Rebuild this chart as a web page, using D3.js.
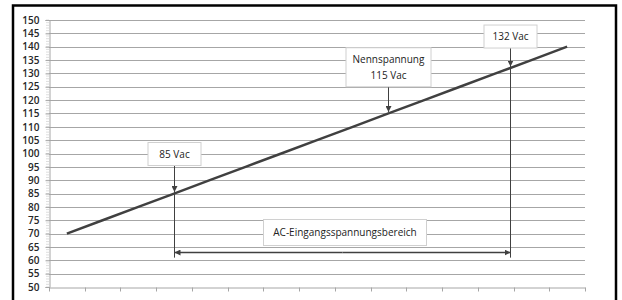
<!DOCTYPE html>
<html>
<head>
<meta charset="utf-8">
<script src="https://cdn.jsdelivr.net/npm/d3@7"></script>
<style>
  body { margin: 0; background: #fff; }
  text { font-family: "Open Sans", sans-serif; }
</style>
</head>
<body>
<svg></svg>
<script>
// data
var categories = [1, 2, 3, 4, 5, 6, 7, 8, 9, 10, 11, 12, 13, 14, 15];
var voltages = [70, 75, 80, 85, 90, 95, 100, 105, 110, 115, 120, 125, 130, 135, 140];
var yTicks = [50, 55, 60, 65, 70, 75, 80, 85, 90, 95, 100, 105, 110, 115, 120, 125, 130, 135, 140, 145, 150];
var markLabels = [["85 Vac"], ["Nennspannung", "115 Vac"], ["132 Vac"]];
var markValues = [85, 115, 132];
var rangeLabel = "AC-Eingangsspannungsbereich";

var svgWidth = 622;
var svgHeight = 300;
var svg = d3.select("svg").attr("width", svgWidth).attr("height", svgHeight);

// outer frame
svg.append("rect")
  .attr("x", 13).attr("y", 5.5)
  .attr("width", 603).attr("height", 310)
  .attr("fill", "#fff").attr("stroke", "#000").attr("stroke-width", 2.5);

var plotLeft = 49, plotRight = 585, plotTop = 20, plotBottom = 287;

var x = d3.scaleBand().domain(categories).range([plotLeft, plotRight]);
var y = d3.scaleLinear().domain([50, 150]).range([plotBottom, plotTop]);
// value -> x along the line (for 132 Vac etc.)
var xv = d3.scaleLinear()
  .domain([voltages[0], voltages[voltages.length - 1]])
  .range([x(categories[0]) + x.bandwidth() / 2, x(categories[categories.length - 1]) + x.bandwidth() / 2]);

var grid = "#a6a6a6";

// gridlines
svg.append("g").selectAll("line")
  .data(yTicks.slice(1))
  .enter().append("line")
  .attr("x1", plotLeft).attr("x2", plotRight)
  .attr("y1", function(d) { return Math.round(y(d)) + 0.5; })
  .attr("y2", function(d) { return Math.round(y(d)) + 0.5; })
  .attr("stroke", grid).attr("stroke-width", 1);

// minor ticks on y axis
var minor = d3.range(50, 151, 1);
svg.append("g").selectAll("line")
  .data(minor)
  .enter().append("line")
  .attr("x1", plotLeft - 3).attr("x2", plotLeft)
  .attr("y1", function(d) { return y(d); })
  .attr("y2", function(d) { return y(d); })
  .attr("stroke", "#c8c8c8").attr("stroke-width", 0.6);

// y axis
var yAxis = d3.axisLeft(y).tickValues(yTicks).tickSize(4).tickPadding(6);
var gy = svg.append("g").attr("transform", "translate(" + (plotLeft + 0.5) + ",0)").call(yAxis);
gy.select(".domain").attr("stroke", grid);
gy.selectAll(".tick line").attr("stroke", grid);
gy.selectAll(".tick text")
  .attr("font-size", "10px")
  .attr("font-weight", "600")
  .attr("fill", "#262626")
  .attr("font-family", "Open Sans");

// x axis (ticks between categories)
var xAxis = d3.axisBottom(x).tickSize(0).tickFormat("");
var gx = svg.append("g").attr("transform", "translate(0," + (Math.round(y(50)) + 0.5) + ")").call(xAxis);
gx.select(".domain").attr("stroke", grid);
gx.selectAll(".tick").remove();
gx.selectAll(".cat")
  .data(categories.concat(["end"]))
  .enter().append("line")
  .attr("x1", function(d, i) { return Math.round(plotLeft + x.step() * i) + 0.5; })
  .attr("x2", function(d, i) { return Math.round(plotLeft + x.step() * i) + 0.5; })
  .attr("y1", 0).attr("y2", 4)
  .attr("stroke", grid);

// the line
var line = d3.line()
  .x(function(d, i) { return x(categories[i]) + x.bandwidth() / 2; })
  .y(function(d) { return y(d); });
svg.append("path")
  .datum(voltages)
  .attr("d", line)
  .attr("fill", "none")
  .attr("stroke", "#404040")
  .attr("stroke-width", 2.5);

// arrow markers
var defs = svg.append("defs");
defs.append("marker")
  .attr("id", "head")
  .attr("viewBox", "0 0 10 10")
  .attr("refX", 10).attr("refY", 5)
  .attr("markerWidth", 6).attr("markerHeight", 6)
  .attr("markerUnits", "userSpaceOnUse")
  .attr("orient", "auto")
  .append("path").attr("d", "M0,0 L10,5 L0,10 z").attr("fill", "#404040");

var ink = "#404040";

// annotation layout (box bottom in y-values, box width, line extends down?)
var boxBottom = [95.5, 125, 139.5];
var boxWidth = [53, 85, 53];
var extendDown = [true, false, true];
var lineBottom = 61;

markValues.forEach(function(v, i) {
  var ax = Math.round(xv(v)) + 0.5;
  var ay = y(v) - 1.5;
  var bb = y(boxBottom[i]);
  var bh = markLabels[i].length * 16 + 7;
  if (extendDown[i]) {
    svg.append("line")
      .attr("x1", ax).attr("x2", ax)
      .attr("y1", bb).attr("y2", y(lineBottom))
      .attr("stroke", ink).attr("stroke-width", 1);
  }
  svg.append("line")
    .attr("x1", ax).attr("x2", ax)
    .attr("y1", bb).attr("y2", ay)
    .attr("stroke", ink).attr("stroke-width", 1)
    .attr("marker-end", "url(#head)");
  svg.append("rect")
    .attr("x", ax - boxWidth[i] / 2).attr("y", bb - bh)
    .attr("width", boxWidth[i]).attr("height", bh)
    .attr("fill", "#fff").attr("stroke", "#d0d0d0");
  markLabels[i].forEach(function(t, j) {
    svg.append("text")
      .attr("x", ax).attr("y", bb - bh + 15 + j * 16)
      .attr("text-anchor", "middle")
      .attr("font-size", "10px")
      .attr("fill", "#222")
      .text(t);
  });
});

// range arrow
var rx1 = Math.round(xv(markValues[0])) + 0.5;
var rx2 = Math.round(xv(markValues[2])) + 0.5;
var ry = Math.round(y(63.2)) + 0.5;
svg.append("line")
  .attr("x1", (rx1 + rx2) / 2).attr("x2", rx1)
  .attr("y1", ry).attr("y2", ry)
  .attr("stroke", ink).attr("stroke-width", 1.5)
  .attr("marker-end", "url(#head)");
svg.append("line")
  .attr("x1", (rx1 + rx2) / 2).attr("x2", rx2)
  .attr("y1", ry).attr("y2", ry)
  .attr("stroke", ink).attr("stroke-width", 1.5)
  .attr("marker-end", "url(#head)");

svg.append("rect")
  .attr("x", 263.5).attr("y", Math.round(y(75.5)) + 0.5)
  .attr("width", 163).attr("height", 26)
  .attr("fill", "#fff").attr("stroke", "#d0d0d0");
svg.append("text")
  .attr("x", 345).attr("y", y(75.5) + 17)
  .attr("text-anchor", "middle")
  .attr("font-size", "10px")
  .attr("fill", "#222")
  .text(rangeLabel);
</script>
</body>
</html>
